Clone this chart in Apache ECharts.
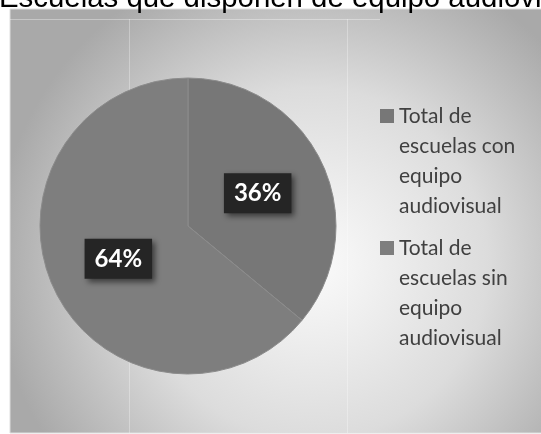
<!DOCTYPE html>
<html>
<head>
<meta charset="utf-8">
<script src="https://cdn.jsdelivr.net/npm/echarts@6/dist/echarts.min.js"></script>
<style>html,body{margin:0;padding:0;background:#fff;}#c{width:541px;height:434px;}</style>
</head>
<body>
<div id="c"></div>
<script>
var titleText = 'Escuelas que disponen de equipo audiovisual';
var categories = ['Total de\nescuelas con\nequipo\naudiovisual', 'Total de\nescuelas sin\nequipo\naudiovisual'];
var values = [36, 64];
var sliceColors = ['#777777', '#7e7e7e'];

var chart = echarts.init(document.getElementById('c'), null, {renderer: 'canvas'});
var option = {
  animation: false,
  graphic: [
    {type: 'rect', z: -10, shape: {x: 10, y: 9, width: 540, height: 424},
     style: {fill: {type: 'radial', x: 0.56, y: 0.6, r: 0.75,
       colorStops: [{offset: 0, color: '#fbfbfb'}, {offset: 0.55, color: '#dcdcdc'}, {offset: 1, color: '#a9a9a9'}]},
       stroke: '#dedede', lineWidth: 1}},
    {type: 'line', z: -9, shape: {x1: 10, y1: 19.5, x2: 380, y2: 19.5}, style: {stroke: 'rgba(255,255,255,0.35)', lineWidth: 1}},
    {type: 'line', z: -9, shape: {x1: 129.5, y1: 19, x2: 129.5, y2: 433}, style: {stroke: 'rgba(255,255,255,0.3)', lineWidth: 1}},
    {type: 'line', z: -9, shape: {x1: 347.5, y1: 19, x2: 347.5, y2: 433}, style: {stroke: 'rgba(255,255,255,0.3)', lineWidth: 1}},
    {type: 'text', z: 10, style: {text: titleText, x: -1, y: -1.5, font: '29.4px "Liberation Sans", Arial, sans-serif', fill: '#000', verticalAlign: 'middle'}}
  ],
  legend: {
    orient: 'vertical',
    left: 375,
    top: 96,
    itemWidth: 14,
    itemHeight: 120,
    itemGap: 12,
    icon: 'path://M0,0L0,0Z M0,120L0,120Z M0,8H14V22H0Z',
    itemStyle: {borderWidth: 0},
    data: categories,
    selectedMode: false,
    textStyle: {fontFamily: 'Lato, "Open Sans", sans-serif', fontSize: 21, color: '#404040', lineHeight: 30}
  },
  series: [{
    type: 'pie',
    center: [188, 226],
    radius: 148,
    startAngle: 90,
    clockwise: true,
    silent: true,
    itemStyle: {borderColor: '#8c8c8c', borderWidth: 1},
    label: {
      show: true,
      position: 'inside',
      formatter: '{d}%',
      color: '#ffffff',
      fontFamily: 'Lato, "Open Sans", sans-serif',
      fontWeight: 'bold',
      fontSize: 24,
      lineHeight: 24,
      backgroundColor: '#252525',
      padding: [8, 10],
      shadowColor: 'rgba(0,0,0,0.55)',
      shadowBlur: 6,
      shadowOffsetX: 3,
      shadowOffsetY: 3
    },
    labelLine: {show: false},
    data: categories.map(function (c, i) { return {name: c, value: values[i], itemStyle: {color: sliceColors[i]}}; })
  }]
};
chart.setOption(option);
</script>
</body>
</html>
